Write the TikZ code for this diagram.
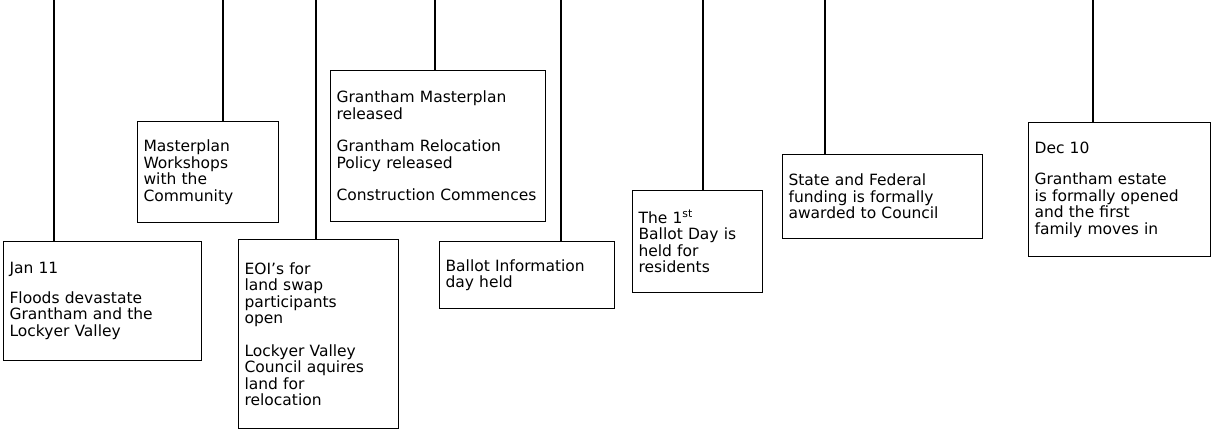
\documentclass[tikz,border=0pt]{standalone}
\usepackage{fontspec}
\setmainfont{DejaVu Sans}
\begin{document}
\begin{tikzpicture}[x=1pt,y=-1pt,
  evbox/.style={draw, line width=1.1pt, anchor=north west, align=left,
    inner xsep=6pt, inner ysep=0pt, font=\fontsize{15.5}{16.5}\selectfont},
  stem/.style={line width=1.1pt}]
\useasboundingbox (0,0) rectangle (1217,431);

\node[evbox, text width=186pt, minimum width=198pt, minimum height=119pt] (b1) at (3,241)
  {Jan 11\\[13pt] Floods devastate\\ Grantham and the\\ Lockyer Valley};
\node[evbox, text width=129pt, minimum width=141pt, minimum height=101pt] (b2) at (137,121)
  {Masterplan\\ Workshops\\ with the\\ Community};
\node[evbox, text width=148pt, minimum width=160pt, minimum height=189pt] (b3) at (238,239)
  {EOI's for\\ land swap\\ participants\\ open\\[16pt] Lockyer Valley\\ Council aquires\\ land for\\ relocation};
\node[evbox, text width=203pt, minimum width=215pt, minimum height=151pt] (b4) at (330,70)
  {Grantham Masterplan\\ released\\[16pt] Grantham Relocation\\ Policy released\\[16pt] Construction Commences};
\node[evbox, text width=163pt, minimum width=175pt, minimum height=67pt] (b5) at (439,241)
  {Ballot Information\\ day held};
\node[evbox, text width=118pt, minimum width=130pt, minimum height=102pt] (b6) at (632,190)
  {The 1\textsuperscript{st}\\ Ballot Day is\\ held for\\ residents};
\node[evbox, text width=188pt, minimum width=200pt, minimum height=84pt] (b7) at (782,154)
  {State and Federal\\ funding is formally\\ awarded to Council};
\node[evbox, text width=170pt, minimum width=182pt, minimum height=134pt] (b8) at (1028,122)
  {Dec 10\\[15pt] Grantham estate\\ is formally opened\\ and the first\\ family moves in};

\coordinate (t1) at (54,0);
\coordinate (t2) at (223,0);
\coordinate (t3) at (316,0);
\coordinate (t4) at (435,0);
\coordinate (t5) at (561,0);
\coordinate (t6) at (703,0);
\coordinate (t7) at (825,0);
\coordinate (t8) at (1093,0);
\draw[stem] (t1) -- (t1 |- b1.north);
\draw[stem] (t2) -- (t2 |- b2.north);
\draw[stem] (t3) -- (t3 |- b3.north);
\draw[stem] (t4) -- (t4 |- b4.north);
\draw[stem] (t5) -- (t5 |- b5.north);
\draw[stem] (t6) -- (t6 |- b6.north);
\draw[stem] (t7) -- (t7 |- b7.north);
\draw[stem] (t8) -- (t8 |- b8.north);
\end{tikzpicture}
\end{document}
